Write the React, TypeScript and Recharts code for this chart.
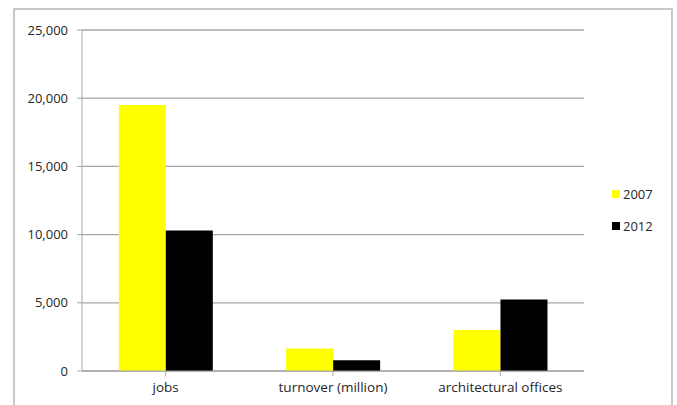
import React from "react";
import { BarChart, Bar, XAxis, YAxis, CartesianGrid } from "recharts";

const categories = ["jobs", "turnover (million)", "architectural offices"];
const values2007 = [19500, 1650, 3000];
const values2012 = [10300, 780, 5250];
const yTicks = [0, 5000, 10000, 15000, 20000, 25000];
const seriesNames = ["2007", "2012"];

const data = categories.map((c, i) => ({
  name: c,
  s2007: values2007[i],
  s2012: values2012[i],
}));

const FONT = "'Open Sans', 'Liberation Sans', sans-serif";

export default function App() {
  return (
    <div style={{ position: "absolute", left: 0, top: 0, width: 677, height: 405, background: "#fff", fontFamily: FONT }}>
      <div
        style={{
          position: "absolute",
          left: 13,
          top: 8,
          width: 660,
          height: 400,
          borderLeft: "2px solid #c8c8c8",
          borderTop: "2px solid #c8c8c8",
          borderRight: "2px solid #c8c8c8",
          boxSizing: "border-box",
        }}
      />
      <div style={{ position: "absolute", left: 0, top: 0 }}>
        <BarChart
          width={677}
          height={405}
          data={data}
          margin={{ top: 30, right: 93, left: 0, bottom: 4 }}
          barCategoryGap="22%"
          barGap={0}
        >
          <CartesianGrid vertical={false} stroke="#a6a6a6" strokeWidth={1.3} />
          <XAxis
            dataKey="name"
            height={30}
            tickLine={{ stroke: "#a6a6a6" }}
            axisLine={{ stroke: "#a6a6a6" }}
            interval={0}
            tick={{ fontSize: 13.5, fill: "#262626", fontFamily: FONT }}
            tickSize={5}
            tickMargin={6}
          />
          <YAxis
            width={82}
            domain={[0, 25000]}
            ticks={yTicks}
            interval={0}
            tickFormatter={(v: number) => v.toLocaleString("en-US")}
            tick={{ fontSize: 13, fill: "#262626", fontFamily: FONT }}
            tickLine={{ stroke: "#a6a6a6" }}
            axisLine={{ stroke: "#a6a6a6" }}
            tickSize={5}
            tickMargin={9}
          />
          <Bar dataKey="s2007" name={seriesNames[0]} fill="#ffff00" isAnimationActive={false} />
          <Bar dataKey="s2012" name={seriesNames[1]} fill="#000000" isAnimationActive={false} />
        </BarChart>
      </div>
      <div style={{ position: "absolute", left: 612, top: 185, fontSize: 13, color: "#262626", lineHeight: "18px" }}>
        <div style={{ display: "flex", alignItems: "center", height: 18 }}>
          <span style={{ width: 8, height: 8, background: "#ffff00", marginRight: 3, display: "inline-block" }} />
          {seriesNames[0]}
        </div>
        <div style={{ display: "flex", alignItems: "center", height: 18, marginTop: 14 }}>
          <span style={{ width: 8, height: 8, background: "#000", marginRight: 3, display: "inline-block" }} />
          {seriesNames[1]}
        </div>
      </div>
    </div>
  );
}
